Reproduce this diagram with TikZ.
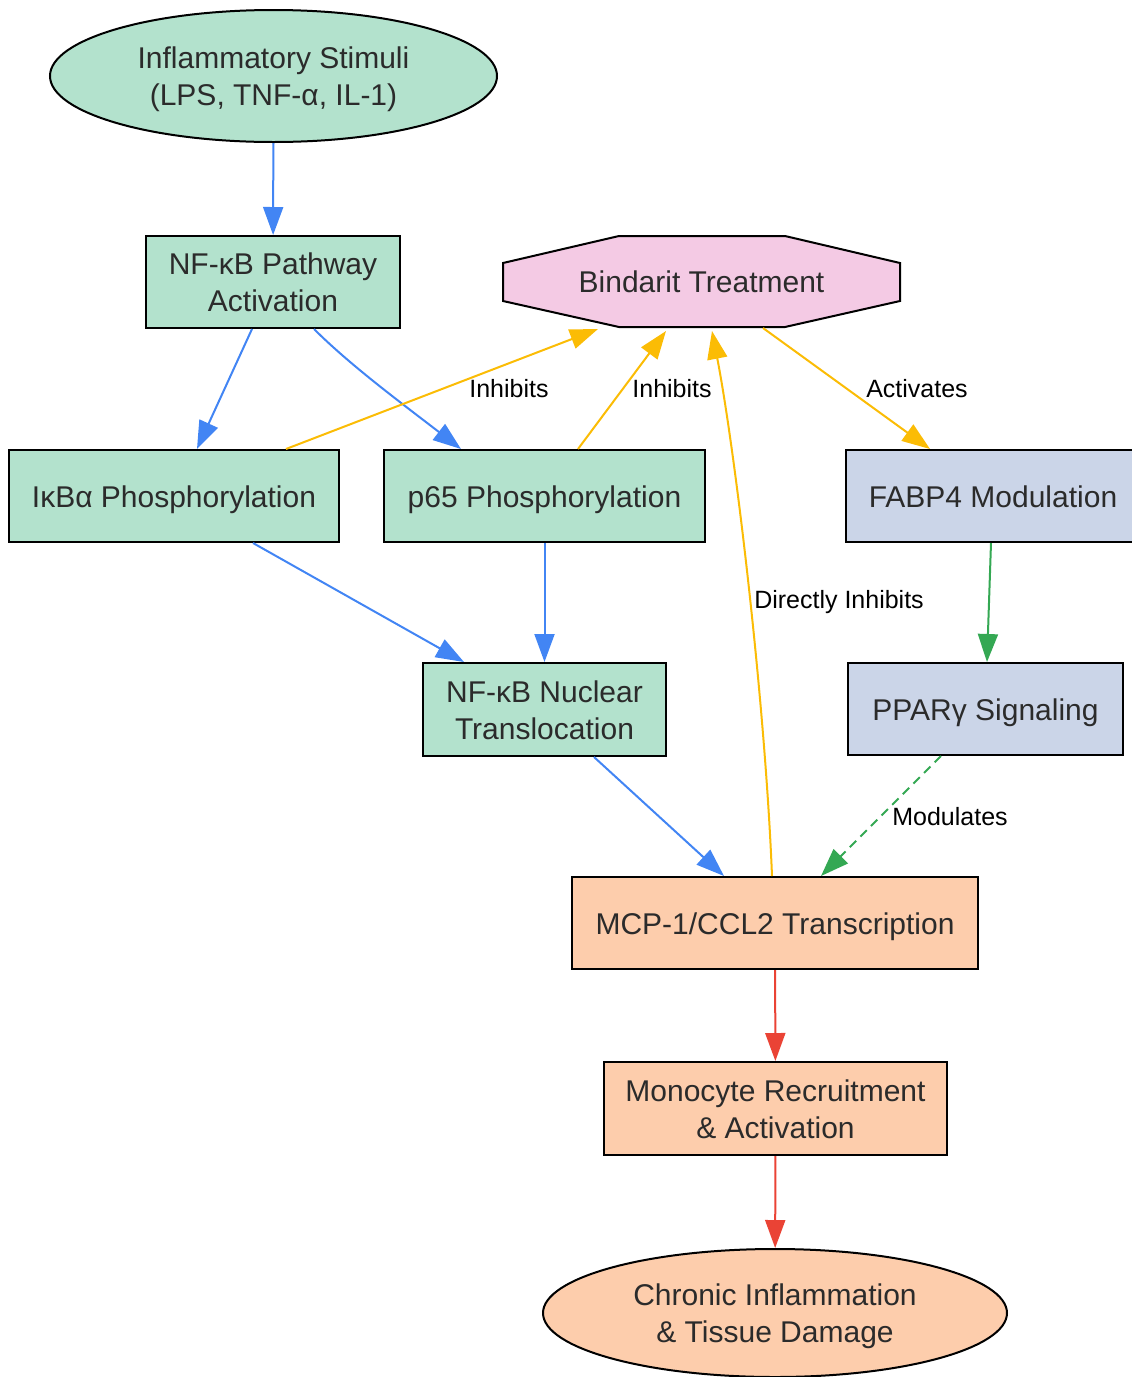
\documentclass[tikz,border=0pt]{standalone}
\usepackage{fontspec}
\setmainfont{Liberation Sans}
\usetikzlibrary{shapes.geometric,arrows.meta,calc}
\definecolor{gfill}{HTML}{B3E2CD}
\definecolor{pfill}{HTML}{F4CAE4}
\definecolor{bfill}{HTML}{CBD5E8}
\definecolor{ofill}{HTML}{FDCDAC}
\definecolor{txt}{HTML}{2B2B2B}
\definecolor{eblue}{HTML}{4285F4}
\definecolor{eyellow}{HTML}{FBBC05}
\definecolor{egreen}{HTML}{34A853}
\definecolor{ered}{HTML}{EA4335}
\newcommand\nt[1]{\raisebox{-4pt}[\height][\depth]{\begin{tabular}{@{}c@{}}#1\end{tabular}}}
\tikzset{
  box/.style={draw=black, line width=2pt, rectangle, inner sep=0pt,
    text=txt, font=\fontsize{30}{37}\selectfont},
  oval/.style={box, ellipse},
  arr/.style={line width=2pt, -{Triangle[length=28pt,width=20pt]}},
  lbl/.style={font=\fontsize{25}{30}\selectfont, text=black, inner sep=0pt},
}
\begin{document}
\begin{tikzpicture}[x=1pt,y=-1pt]
\useasboundingbox (0,0) rectangle (1132,1377);
% nodes
\node[oval, fill=gfill, minimum width=447pt, minimum height=132pt] (stim) at (273.5,76) {\nt{Inflammatory Stimuli\\(LPS, TNF-α, IL-1)}};
\node[box, fill=gfill, minimum width=254pt, minimum height=92pt] (path) at (273,282) {\nt{NF-κB Pathway\\Activation}};
% octagon
\path[draw=black, line width=2pt, fill=pfill] (503,263) -- (619,236) -- (785,236) -- (900,263) -- (900,301) -- (785,327) -- (619,327) -- (503,301) -- cycle;
\node[box, draw=none, minimum width=397pt, minimum height=91pt] (bind) at (701.5,281.5) {\nt{Bindarit Treatment}};
\node[box, fill=gfill, minimum width=330pt, minimum height=92pt] (ikba) at (174,496) {\nt{IκBα Phosphorylation}};
\node[box, fill=gfill, minimum width=321pt, minimum height=92pt] (p65) at (544.5,496) {\nt{p65 Phosphorylation}};
\node[box, fill=bfill, minimum width=294pt, minimum height=92pt] (fabp) at (993,496) {\nt{FABP4 Modulation}};
\node[box, fill=gfill, minimum width=243pt, minimum height=93pt] (nuc) at (544.5,709.5) {\nt{NF-κB Nuclear\\Translocation}};
\node[box, fill=bfill, minimum width=275pt, minimum height=92pt] (ppar) at (985.5,709) {\nt{PPARγ Signaling}};
\node[box, fill=ofill, minimum width=406pt, minimum height=92pt] (mcp) at (775,923) {\nt{MCP-1/CCL2 Transcription}};
\node[box, fill=ofill, minimum width=343pt, minimum height=93pt] (mono) at (775.5,1108.5) {\nt{Monocyte Recruitment\\\& Activation}};
\node[oval, fill=ofill, minimum width=464pt, minimum height=128pt] (chron) at (775,1313) {\nt{Chronic Inflammation\\\& Tissue Damage}};
% edges
\draw[arr, eblue] (stim) -- (path);
\draw[arr, eblue] ([xshift=-21pt]path.south) -- ([xshift=23pt]ikba.north);
\draw[arr, eblue] ([xshift=41pt]path.south) .. controls (350,365) and (400,402) .. ([xshift=-83.5pt]p65.north);
\draw[arr, eyellow] ([xshift=112pt]ikba.north) -- ([xshift=-103.5pt,yshift=-1pt]bind.south);
\draw[arr, eyellow] ([xshift=33.5pt]p65.north) -- ([xshift=-35.5pt,yshift=-3pt]bind.south);
\draw[arr, eyellow] ([xshift=61.5pt]bind.south) -- ([xshift=-63pt]fabp.north);
\draw[arr, eblue] ([xshift=79pt]ikba.south) -- ([xshift=-80.5pt]nuc.north);
\draw[arr, eblue] (p65.south) -- (nuc.north);
\draw[arr, eblue] ([xshift=49.5pt]nuc.south) -- ([xshift=-51pt]mcp.north);
\draw[arr, egreen] ([xshift=-2pt]fabp.south) -- ([xshift=1.5pt]ppar.north);
\draw[arr, egreen, dashed, dash pattern=on 9pt off 6pt] ([xshift=-44.5pt]ppar.south) -- ([xshift=46pt]mcp.north);
\draw[arr, eyellow] ([xshift=-3pt]mcp.north) .. controls (765,700) and (735,450) .. ([xshift=10.5pt,yshift=-3pt]bind.south);
\draw[arr, ered] (mcp) -- (mono);
\draw[arr, ered] (mono) -- (chron);
% labels
\node[lbl] (l1) at (509,389) {Inhibits};
\node[lbl] (l2) at (672,389) {Inhibits};
\node[lbl] (l3) at (917,389) {Activates};
\node[lbl] (l4) at (839,602) {Directly Inhibits};
\node[lbl] (l5) at (950,817) {Modulates};
\end{tikzpicture}
\end{document}
